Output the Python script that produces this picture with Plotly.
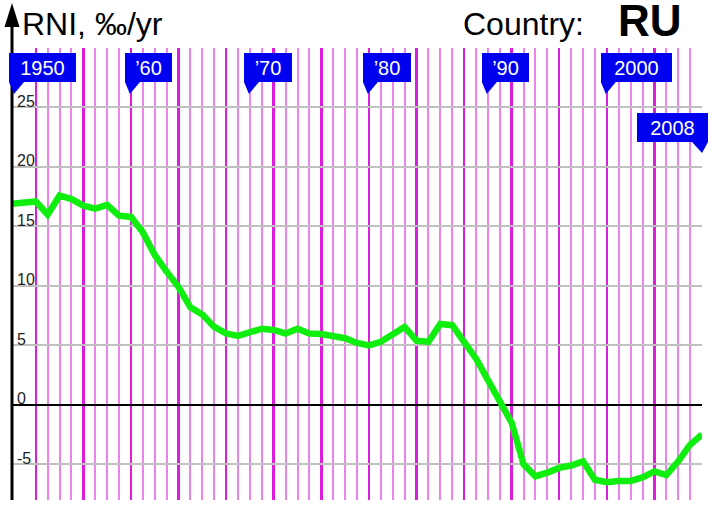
import plotly.graph_objects as go

# ---------------- data ----------------
years = list(range(1950, 2009))
rni = [16.9, 17.0, 17.1, 16.0, 17.6, 17.3, 16.75, 16.5, 16.8, 15.9,
       15.8, 14.5, 12.6, 11.2, 9.9, 8.2, 7.6, 6.55, 6.0, 5.8,
       6.1, 6.4, 6.3, 6.0, 6.4, 6.0, 5.95, 5.8, 5.6, 5.2,
       5.0, 5.3, 5.9, 6.55, 5.4, 5.3, 6.8, 6.7, 5.3, 3.9,
       2.1, 0.4, -1.5, -5.0, -6.0, -5.7, -5.3, -5.1, -4.75, -6.3,
       -6.5, -6.4, -6.4, -6.1, -5.6, -5.9, -4.75, -3.35, -2.5]

ytick_vals = [-5, 0, 5, 10, 15, 20, 25, 30]
ytick_text = ["-5", "0", "5", "10", "15", "20", "25", ""]

label_years = [1950, 1960, 1970, 1980, 1990, 2000, 2008]
label_texts = ["1950", "\u201960", "\u201970", "\u201980", "\u201990", "2000", "2008"]

title_text = "RNI, \u2030/yr"
country_label = "Country:"
country_code = "RU"

# ---------------- styles ----------------
FONT = "Liberation Sans, Arial, sans-serif"
label_widths = [67, 47, 48, 48, 47, 71, 71]
label_shift = [-3, -6, -6, -6, -6, -6, 6]
label_side = ["left"] * 6 + ["right"]
label_row = [0.9248] * 6 + [0.7920]   # paper y of box bottom
BLUE = "#0000f0"
GREEN = "#10ee10"
X_RANGE = [years[0], years[-1]]


def to_paper(yr):
    # position along the x axis as a fraction of its range (for unclipped shapes)
    return (yr - X_RANGE[0]) / (X_RANGE[1] - X_RANGE[0])


fig = go.Figure()
fig.add_trace(go.Scatter(
    x=years, y=rni, mode="lines",
    line=dict(color=GREEN, width=6.5),
    hoverinfo="skip", showlegend=False, cliponaxis=False,
))

shapes = []
annotations = []

# y axis line with arrow
shapes.append(dict(type="line", xref="paper", x0=to_paper(years[0]), x1=to_paper(years[0]),
                   yref="paper", y0=0, y1=1.05,
                   line=dict(color="black", width=3), layer="above"))
shapes.append(dict(type="path", xref="paper", xsizemode="pixel", xanchor=to_paper(years[0]),
                   yref="paper", ysizemode="pixel", yanchor=1,
                   path="M-7.5,21 L0,45 L7.5,21 Z",
                   fillcolor="black", line=dict(width=0), layer="above"))

# year labels
for yr, txt, w, s, side, row in zip(label_years, label_texts, label_widths,
                                     label_shift, label_side, label_row):
    if side == "left":
        tri = "M%d,0 L%d,-12 L%d,0 Z" % (s, s + 5, s + 15)
        anchor = "left"
    else:
        tri = "M%d,0 L%d,-11 L%d,0 Z" % (s, s - 6, s - 16)
        anchor = "right"
    annotations.append(dict(x=yr, xref="x", xanchor=anchor, xshift=s,
                            y=row, yref="paper", yanchor="bottom",
                            text=txt, showarrow=False, width=w, height=29,
                            bgcolor=BLUE, borderpad=0, borderwidth=0,
                            font=dict(family=FONT, size=20, color="white"),
                            align="center", valign="middle"))
    shapes.append(dict(type="path", xref="paper", xsizemode="pixel", xanchor=to_paper(yr),
                       yref="paper", ysizemode="pixel", yanchor=row,
                       path=tri, fillcolor=BLUE, line=dict(width=0), layer="above"))

# titles
annotations.append(dict(x=0.0152, xref="paper", xanchor="left",
                        y=1.0524, yref="paper", yanchor="middle",
                        text=title_text, showarrow=False, borderpad=0, borderwidth=0,
                        font=dict(family=FONT, size=32, color="black")))
annotations.append(dict(x=0.6543, xref="paper", xanchor="left",
                        y=1.0524, yref="paper", yanchor="middle",
                        text=country_label, showarrow=False, borderpad=0, borderwidth=0,
                        font=dict(family=FONT, size=32, color="black")))
annotations.append(dict(x=0.8777, xref="paper", xanchor="left",
                        y=1.0606, yref="paper", yanchor="middle", height=41,
                        valign="middle",
                        text="<b>" + country_code + "</b>", showarrow=False,
                        borderpad=0, borderwidth=0,
                        font=dict(family=FONT, size=44, color="black")))

fig.update_layout(
    width=714, height=512,
    margin=dict(l=12, r=12, t=48, b=12, pad=0),
    paper_bgcolor="white", plot_bgcolor="white",
    showlegend=False,
    shapes=shapes, annotations=annotations,
    xaxis=dict(range=X_RANGE, showticklabels=False, ticks="",
               showgrid=True, tick0=1948, dtick=4,
               gridcolor="#dc1edc", gridwidth=2.5,
               minor=dict(tick0=1950, dtick=1, showgrid=True,
                          gridcolor="#ee82ee", gridwidth=2),
               zeroline=False, showline=False, fixedrange=True),
    yaxis=dict(range=[-8, 30], tickvals=ytick_vals, ticktext=ytick_text,
               ticks="", ticklabelposition="inside top",
               ticklabelshift=5, ticklabelstandoff=2,
               tickfont=dict(family=FONT, size=16, color="#222"),
               showgrid=True, gridcolor="#c0c0c0", gridwidth=2,
               zeroline=True, zerolinecolor="black", zerolinewidth=2.5,
               showline=False, fixedrange=True),
)

fig.write_html("out.html", config={"displayModeBar": False, "staticPlot": True},
               post_script="document.body.style.margin='0px';document.body.style.overflow='hidden';")
